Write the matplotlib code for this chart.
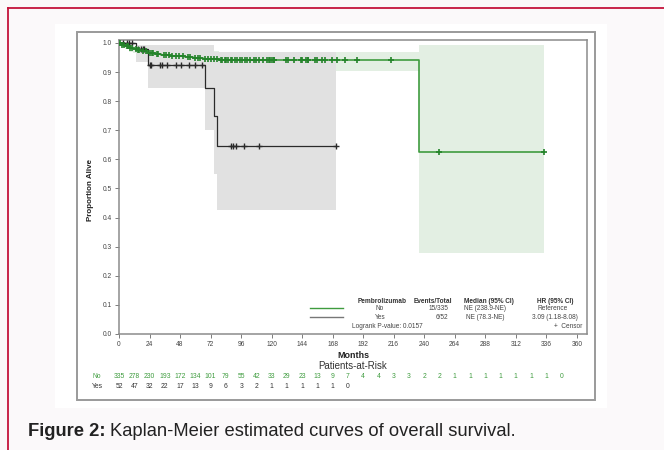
import numpy as np
import matplotlib
matplotlib.use("Agg")
import matplotlib.pyplot as plt
from matplotlib.patches import Rectangle
from matplotlib.lines import Line2D
from matplotlib.transforms import blended_transform_factory

plt.rcParams['font.family'] = ['Liberation Sans', 'DejaVu Sans']

# Kaplan-Meier step data (months, survival)
green_times = [0, 2, 5, 8, 11, 14, 18, 22, 28, 33, 40, 52, 58, 66, 79, 236]
green_surv = [1.0, 0.994, 0.988, 0.982, 0.979, 0.975, 0.971, 0.966, 0.962,
              0.958, 0.955, 0.951, 0.948, 0.944, 0.940, 0.627]
green_lower = [1.0, 0.985, 0.978, 0.970, 0.965, 0.960, 0.955, 0.948, 0.943,
               0.938, 0.933, 0.928, 0.922, 0.915, 0.905, 0.28]
green_upper = [1.0, 0.999, 0.996, 0.993, 0.991, 0.989, 0.987, 0.984, 0.981,
               0.979, 0.977, 0.975, 0.973, 0.971, 0.968, 0.993]
green_end = 334
green_censor = [1, 2.5, 4, 6, 7, 9, 10, 13, 15, 16, 19, 21, 24, 26, 27, 30, 31,
                35, 37, 39, 42, 45, 47, 50, 54, 56, 60, 62, 64, 68, 70, 72, 75,
                77, 80, 81, 83, 84, 86, 88, 89, 91, 93, 95, 97, 99, 101, 103,
                106, 108, 110, 113, 116, 118, 118.5, 120, 121.5, 122, 131, 133,
                137.5, 143, 144, 147, 148.5, 149, 154.5, 156, 160, 162, 167.5,
                171.5, 177.5, 187.5, 214, 252, 334]

black_times = [0, 13, 23, 68, 75, 77]
black_surv = [1.0, 0.981, 0.923, 0.846, 0.75, 0.645]
black_lower = [1.0, 0.935, 0.846, 0.70, 0.55, 0.425]
black_upper = [1.0, 0.993, 0.993, 0.993, 0.97, 0.97]
black_end = 171
black_censor = [3, 6, 8, 10, 15, 17, 19, 20, 24, 25, 32, 34, 38, 45, 49, 55,
                60, 65, 88, 90, 92, 98, 110, 171]

risk_months = list(range(0, 360, 12))
risk_no = [335, 278, 230, 193, 172, 134, 101, 79, 55, 42, 33, 29, 23, 13, 9,
           7, 4, 4, 3, 3, 2, 2, 1, 1, 1, 1, 1, 1, 1, 0]
risk_yes = [52, 47, 32, 22, 17, 13, 9, 6, 3, 2, 1, 1, 1, 1, 1, 0]

x_ticks = list(range(0, 361, 24))
y_ticks = [i / 10 for i in range(11)]

GREEN = '#3f9c3f'
GREEN_DARK = '#24832a'
GREEN_BAND = '#e3efe3'
GREY_BAND = '#e1e1e1'
BLACK = '#2a2a2a'

W, H = 664, 450


def px(x, y):
    return x / W, 1 - y / H


def step_xy(times, vals, end):
    xs = list(times) + [end]
    ys = list(vals) + [vals[-1]]
    return xs, ys


def surv_at(times, vals, t):
    i = np.searchsorted(times, t, side='right') - 1
    return vals[i]


fig = plt.figure(figsize=(W / 100, H / 100), dpi=100)
fig.patch.set_facecolor('#fbf9fa')

# page decoration
fig.add_artist(Rectangle(px(55, 408), 552 / W, 384 / H, transform=fig.transFigure,
                         facecolor='white', edgecolor='none', zorder=0))
fig.add_artist(Rectangle(px(77, 400), 518 / W, 368 / H, transform=fig.transFigure,
                         facecolor='none', edgecolor='#9a9a9a', lw=1.4, zorder=1))
fig.add_artist(Line2D([8 / W, 1], [1 - 8 / H] * 2, transform=fig.transFigure,
                      color='#c4143c', lw=1.3))
fig.add_artist(Line2D([8 / W] * 2, [0, 1 - 8 / H], transform=fig.transFigure,
                      color='#c4143c', lw=1.3))

ax = fig.add_axes([119 / W, 1 - 334 / H, 468 / W, 294 / H])
ax.set_xlim(0, 368)
ax.set_ylim(0, 1.0103)

# confidence bands
gx, gl = step_xy(green_times, green_lower, green_end)
_, gu = step_xy(green_times, green_upper, green_end)
ax.fill_between(gx, gl, gu, step='post', color=GREEN_BAND, lw=0, zorder=1)
bx, bl = step_xy(black_times, black_lower, black_end)
_, bu = step_xy(black_times, black_upper, black_end)
ax.fill_between(bx, bl, bu, step='post', color=GREY_BAND, lw=0, zorder=2)

# survival curves
gx, gy = step_xy(green_times, green_surv, green_end)
ax.step(gx, gy, where='post', color=GREEN, lw=1.2, zorder=4)
bx, by = step_xy(black_times, black_surv, black_end)
ax.step(bx, by, where='post', color=BLACK, lw=0.9, zorder=3)

gcy = [surv_at(green_times, green_surv, t) for t in green_censor]
ax.plot(green_censor, gcy, ls='none', marker='+', ms=4, mew=1.2,
        color=GREEN_DARK, zorder=5)
bcy = [surv_at(black_times, black_surv, t) for t in black_censor]
ax.plot(black_censor, bcy, ls='none', marker='+', ms=3.8, mew=1.0,
        color=BLACK, zorder=4)

# axes styling
ax.set_xticks(x_ticks)
ax.set_yticks(y_ticks)
ax.set_yticklabels([f'{v:.1f}' for v in y_ticks])
ax.tick_params(direction='out', length=3, width=0.6, color='#666',
               labelsize=4.8, labelcolor='#444', pad=2)
for s in ax.spines.values():
    s.set_color('#8c8c8c')
    s.set_linewidth(1.1)

# legend table
hdr = dict(fontsize=4.7, fontweight='bold', color='#333', va='center')
txt = dict(fontsize=4.7, color='#444', va='center')
ax.text(207, 0.113, 'Pembrolizumab', ha='center', **hdr)
ax.text(247, 0.113, 'Events/Total', ha='center', **hdr)
ax.text(291, 0.113, 'Median (95% CI)', ha='center', **hdr)
ax.text(343, 0.113, 'HR (95% CI)', ha='center', **hdr)
ax.plot([150, 176], [0.089, 0.089], color=GREEN, lw=1.0)
ax.plot([150, 176], [0.058, 0.058], color='#777', lw=1.0)
ax.text(205, 0.089, 'No', ha='center', **txt)
ax.text(205, 0.058, 'Yes', ha='center', **txt)
ax.text(259, 0.089, '15/335', ha='right', **txt)
ax.text(259, 0.058, '6/52', ha='right', **txt)
ax.text(288, 0.089, 'NE (238.9-NE)', ha='center', **txt)
ax.text(288, 0.058, 'NE (78.3-NE)', ha='center', **txt)
ax.text(341, 0.089, 'Reference', ha='center', **txt)
ax.text(343, 0.058, '3.09 (1.18-8.08)', ha='center', **txt)
ax.text(183, 0.027, 'Logrank P-value: 0.0157', ha='left', **txt)
ax.text(364, 0.027, '+  Censor', ha='right', **txt)

# axis labels
fig.text(*px(90, 190), 'Proportion Alive', rotation=90, ha='center',
         va='center', fontsize=5.8, fontweight='bold', color='#222')
fig.text(*px(353, 356), 'Months', ha='center', va='center', fontsize=6.4,
         fontweight='bold', color='#222')
fig.text(*px(353, 366), 'Patients-at-Risk', ha='center', va='center',
         fontsize=7, color='#333')

# numbers at risk
tr = blended_transform_factory(ax.transData, fig.transFigure)
y_no = 1 - 377 / H
y_yes = 1 - 387 / H
fig.text(*px(97, 377), 'No', ha='center', va='center', fontsize=4.9, color=GREEN)
fig.text(*px(97, 387), 'Yes', ha='center', va='center', fontsize=4.9, color='#333')
for m, n in zip(risk_months, risk_no):
    ax.text(m, y_no, str(n), transform=tr, ha='center', va='center',
            fontsize=4.9, color=GREEN, clip_on=False)
for m, n in zip(risk_months, risk_yes):
    ax.text(m, y_yes, str(n), transform=tr, ha='center', va='center',
            fontsize=4.9, color='#333', clip_on=False)

# caption
cap_y = 1 - 432 / H
t1 = fig.text(28 / W, cap_y, 'Figure 2:', fontsize=13.2, fontweight='bold',
              color='#222', va='center')
fig.canvas.draw()
bb = t1.get_window_extent()
fig.text(bb.x1 / W + 4 / W, cap_y, 'Kaplan-Meier estimated curves of overall survival.',
         fontsize=13.2, color='#222', va='center')

fig.savefig('out.png', dpi=100, facecolor=fig.get_facecolor())
